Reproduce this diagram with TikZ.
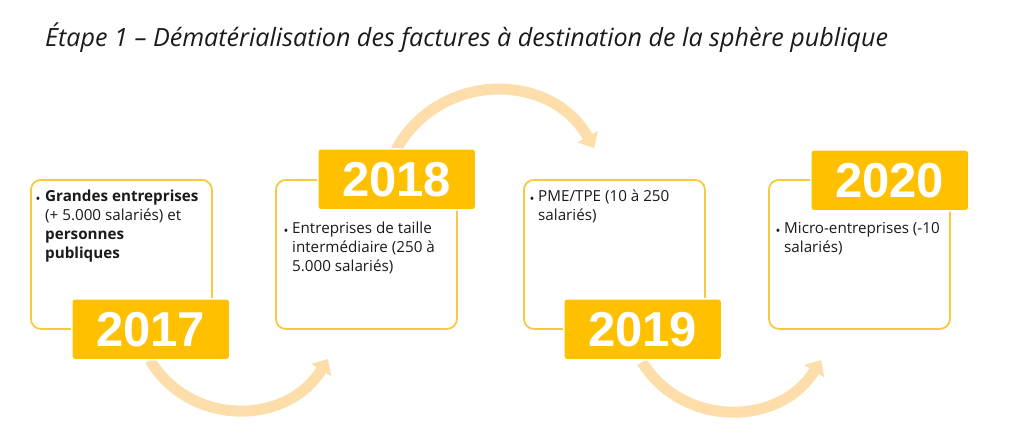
\documentclass[tikz,border=0pt]{standalone}
\usepackage{fontspec}
\setmainfont{Open Sans}
\newfontfamily\yearfont{Liberation Sans}
\usetikzlibrary{arrows.meta}
\definecolor{gold}{HTML}{FFC000}
\definecolor{outl}{HTML}{F7C940}
\definecolor{peach}{HTML}{FDDEAA}
\definecolor{txt}{HTML}{1A1A1A}
\begin{document}
\begin{tikzpicture}[x=1pt,y=-1pt,
  panel/.style={draw=outl, line width=1.8pt, rounded corners=10pt, fill=white,
    anchor=north west, minimum width=181pt, minimum height=149pt, inner sep=0pt},
  yearbox/.style={fill=gold, draw=white, line width=1.5pt, rounded corners=3pt,
    anchor=north west, minimum width=158pt, minimum height=61pt, inner sep=0pt,
    text=white, font=\yearfont\bfseries\fontsize{49}{49}\selectfont},
  bodytext/.style={anchor=north west, inner sep=0pt, align=left, text=txt,
    font=\fontsize{15.2}{19}\selectfont},
  bul/.style={inner sep=0pt, text=txt, font=\fontsize{13}{13}\selectfont},
  arc/.style={draw=peach, line width=11pt, -{Triangle[length=13pt,width=23pt]}}
]
\useasboundingbox (0,0) rectangle (1024,437);
% title
\node[anchor=base west, inner sep=0pt, text=txt, font=\fontsize{25.1}{29}\selectfont\itshape] (title) at (45,46)
  {Étape 1 – Dématérialisation des factures à destination de la sphère publique};
% panels
\node[panel] (p1) at (30,179) {};
\node[panel] (p2) at (275,179) {};
\node[panel] (p3) at (523,179) {};
\node[panel] (p4) at (768,179) {};
% arcs
\coordinate (t1) at (328,359);
\coordinate (t2) at (594,148);
\coordinate (t3) at (821,360);
\coordinate (s1) at (150,360);
\coordinate (s2) at (396,150);
\coordinate (s3) at (642,362);
\draw[arc] (s1) .. controls (190,427) and (287,426) .. (t1);
\draw[arc] (s2) .. controls (439,71) and (551,71) .. (t2);
\draw[arc] (s3) .. controls (683,428) and (780,427) .. (t3);
% year boxes
\node[yearbox] (y1) at (71,298) {2017};
\node[yearbox] (y2) at (317,148) {2018};
\node[yearbox] (y3) at (563,298) {2019};
\node[yearbox] (y4) at (810,149) {2020};
% texts
\node[bul] (b1) at (38,200) {•};
\node[bodytext] (x1) at (45,190) {\textbf{Grandes entreprises}\\(+ 5.000 salariés) et\\\textbf{personnes}\\\textbf{publiques}};
\node[bul] (b2) at (286,232) {•};
\node[bodytext] (x2) at (292,222) {Entreprises de taille\\intermédiaire (250 à\\5.000 salariés)};
\node[bul] (b3) at (532,200) {•};
\node[bodytext] (x3) at (538,190) {PME/TPE (10 à 250\\salariés)};
\node[bul] (b4) at (778,232) {•};
\node[bodytext] (x4) at (784,222) {Micro-entreprises (-10\\salariés)};
\end{tikzpicture}
\end{document}
